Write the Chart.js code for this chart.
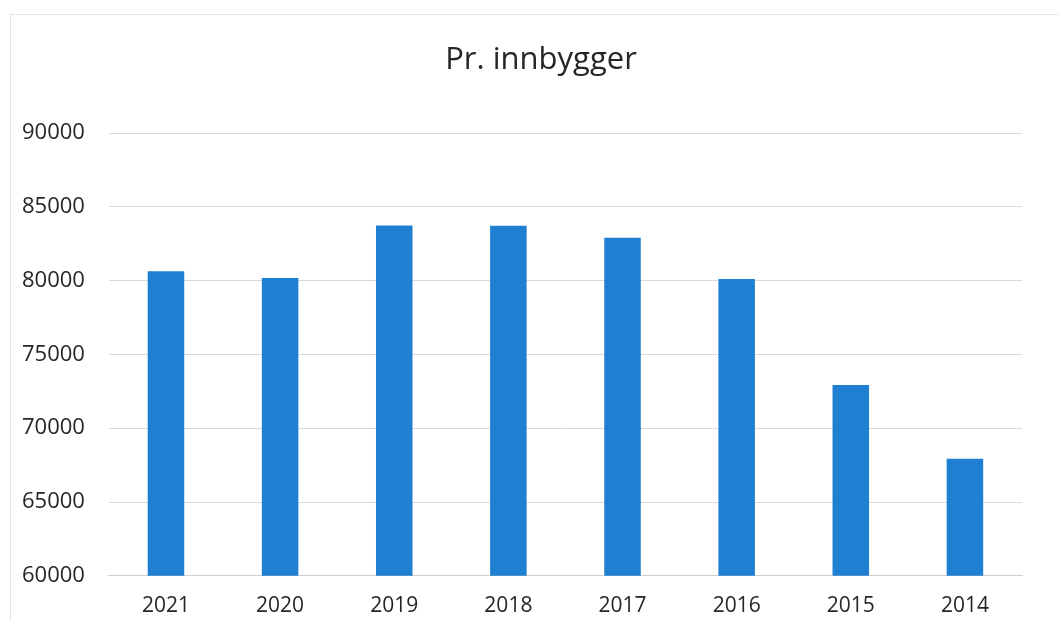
<!DOCTYPE html>
<html>
<head>
<meta charset="utf-8">
<script src="https://cdn.jsdelivr.net/npm/chart.js@4/dist/chart.umd.min.js"></script>
<style>
  html, body { margin: 0; padding: 0; background: #fff; }
  #wrap { position: relative; width: 1059px; height: 621px; overflow: hidden; }
  #frame { position: absolute; left: 10px; top: 14px; width: 1060px; height: 620px; border-left: 1px solid #e4e4e4; border-top: 1px solid #e4e4e4; box-sizing: border-box; }
  canvas { display: block; position: relative; }
</style>
</head>
<body>
<div id="wrap">
  <div id="frame"></div>
  <canvas id="chart" width="1059" height="621"></canvas>
</div>
<script>
// data
const years = ['2021', '2020', '2019', '2018', '2017', '2016', '2015', '2014'];
const perInhabitant = [80630, 80180, 83730, 83720, 82900, 80100, 72920, 67930];
const yMin = 60000;
const yMax = 90000;
const yStep = 5000;
const chartTitle = 'Pr. innbygger';

const textColor = '#262626';
const fontFamily = "'Open Sans', 'Liberation Sans', sans-serif";

// title sits a little right of the canvas centre, like in the picture
const titlePlugin = {
    id: 'offsetTitle',
    afterDraw(chart) {
        const c = chart.ctx;
        c.save();
        c.font = `31px ${fontFamily}`;
        c.fillStyle = textColor;
        c.textAlign = 'center';
        c.textBaseline = 'middle';
        c.fillText(chartTitle, 541, 60);
        c.restore();
    }
};

const ctx = document.getElementById('chart').getContext('2d');

new Chart(ctx, {
    type: 'bar',
    data: {
        labels: years,
        datasets: [{
            label: chartTitle,
            data: perInhabitant,
            backgroundColor: '#1f80d1',
            borderWidth: 0,
            barPercentage: 0.32,
            categoryPercentage: 1.0
        }]
    },
    options: {
        responsive: false,
        animation: false,
        layout: { padding: { top: 133, left: -2, right: 37, bottom: -16 } },
        plugins: {
            legend: { display: false },
            tooltip: { enabled: false },
            title: { display: false }
        },
        scales: {
            y: {
                min: yMin,
                max: yMax,
                ticks: {
                    stepSize: yStep,
                    color: textColor,
                    padding: 24,
                    font: { family: fontFamily, size: 22 },
                    callback: (v) => String(v)
                },
                grid: { color: '#d9d9d9', drawTicks: false },
                border: { display: false }
            },
            x: {
                ticks: {
                    color: textColor,
                    padding: 18,
                    font: { family: fontFamily, size: 21 }
                },
                grid: { display: false, drawTicks: false },
                border: { display: true, color: '#d0d0d0' }
            }
        }
    },
    plugins: [titlePlugin]
});
</script>
</body>
</html>
